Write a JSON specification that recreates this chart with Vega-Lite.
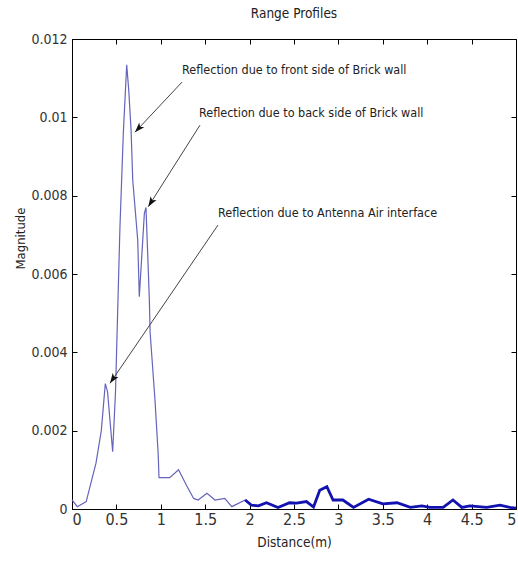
{
  "$schema": "https://vega.github.io/schema/vega-lite/v6.json",
  "autosize": "none",
  "width": 444,
  "height": 470,
  "padding": {"left": 72, "top": 39, "right": 2, "bottom": 53},
  "background": "white",
  "title": {"text": "Range Profiles", "fontSize": 13.5, "fontWeight": "normal", "font": "DejaVu Sans Condensed, sans-serif", "color": "#222", "offset": 12},
  "config": {
    "view": {"stroke": "#000", "strokeWidth": 1},
    "axis": {"grid": false, "domainColor": "#000", "tickColor": "#000", "labelFont": "DejaVu Sans Condensed, sans-serif", "titleFont": "DejaVu Sans Condensed, sans-serif", "titleFontWeight": "normal", "labelColor": "#333", "titleColor": "#222", "tickSize": -5}
  },
  "datasets": {
    "profile": [
      {"d": 0, "m": 0.00023}, {"d": 0.06, "m": 0.00006}, {"d": 0.16, "m": 0.00019},
      {"d": 0.27, "m": 0.00117}, {"d": 0.33, "m": 0.002}, {"d": 0.375, "m": 0.0032},
      {"d": 0.40, "m": 0.003}, {"d": 0.458, "m": 0.00146}, {"d": 0.49, "m": 0.003},
      {"d": 0.503, "m": 0.0041}, {"d": 0.54, "m": 0.0072}, {"d": 0.578, "m": 0.0096},
      {"d": 0.616, "m": 0.01134}, {"d": 0.639, "m": 0.0107}, {"d": 0.665, "m": 0.00968},
      {"d": 0.684, "m": 0.0084}, {"d": 0.74, "m": 0.00687}, {"d": 0.758, "m": 0.00542},
      {"d": 0.815, "m": 0.00755}, {"d": 0.833, "m": 0.0077}, {"d": 0.87, "m": 0.00542},
      {"d": 0.88, "m": 0.0045}, {"d": 0.934, "m": 0.0028}, {"d": 0.97, "m": 0.00143},
      {"d": 0.98, "m": 0.0008}, {"d": 1.1, "m": 0.0008}, {"d": 1.2, "m": 0.001},
      {"d": 1.29, "m": 0.0006}, {"d": 1.37, "m": 0.00027}, {"d": 1.42, "m": 0.00023},
      {"d": 1.52, "m": 0.0004}, {"d": 1.61, "m": 0.00023}, {"d": 1.72, "m": 0.00027},
      {"d": 1.8, "m": 0.00006}, {"d": 1.95, "m": 0.00023}, {"d": 2.02, "m": 0.0001},
      {"d": 2.1, "m": 0.00008}, {"d": 2.19, "m": 0.00016}, {"d": 2.32, "m": 0.00004},
      {"d": 2.45, "m": 0.00016}, {"d": 2.53, "m": 0.00015}, {"d": 2.64, "m": 0.00019},
      {"d": 2.72, "m": 0.00005}, {"d": 2.79, "m": 0.00048}, {"d": 2.87, "m": 0.00057},
      {"d": 2.94, "m": 0.00023}, {"d": 3.05, "m": 0.00023}, {"d": 3.17, "m": 0.00004},
      {"d": 3.34, "m": 0.00025}, {"d": 3.5, "m": 0.00013}, {"d": 3.66, "m": 0.00016},
      {"d": 3.81, "m": 0.00004}, {"d": 3.94, "m": 0.00008}, {"d": 4.03, "m": 0.00004},
      {"d": 4.18, "m": 0.00004}, {"d": 4.29, "m": 0.00023}, {"d": 4.39, "m": 0.00004},
      {"d": 4.48, "m": 0.00008}, {"d": 4.67, "m": 0.00004}, {"d": 4.82, "m": 0.0001},
      {"d": 4.93, "m": 0.00004}, {"d": 5.0, "m": 0.00002}
    ],
    "notes": [
      {"id": "front", "label": "Reflection due to front side of Brick wall", "tx": 1.239, "ty": 0.01121, "x1": 1.239, "y1": 0.0109, "x2": 0.709, "y2": 0.00962},
      {"id": "back", "label": "Reflection due to back side of Brick wall", "tx": 1.43, "ty": 0.01011, "x1": 1.441, "y1": 0.0098, "x2": 0.859, "y2": 0.00772},
      {"id": "antenna", "label": "Reflection due to Antenna Air interface", "tx": 1.644, "ty": 0.00756, "x1": 1.644, "y1": 0.00725, "x2": 0.428, "y2": 0.00321}
    ]
  },
  "layer": [
    {
      "data": {"name": "profile"},
      "mark": {"type": "line", "color": "#6464bc", "strokeWidth": 1.2},
      "encoding": {
        "x": {"field": "d", "type": "quantitative", "scale": {"domain": [0, 5], "nice": false}, "axis": {"title": "Distance(m)", "values": [0, 0.5, 1, 1.5, 2, 2.5, 3, 3.5, 4, 4.5, 5], "format": "~g", "labelFontSize": 16, "labelPadding": 7, "titleFontSize": 13.5, "titlePadding": 8}},
        "y": {"field": "m", "type": "quantitative", "scale": {"domain": [0, 0.012], "nice": false}, "axis": {"title": "Magnitude", "values": [0, 0.002, 0.004, 0.006, 0.008, 0.01, 0.012], "format": "~g", "labelFontSize": 14, "labelPadding": 10, "titleFontSize": 13, "titleX": -45, "titleY": 199}}
      }
    },
    {
      "data": {"name": "profile"},
      "transform": [{"filter": "datum.d >= 1.95"}],
      "mark": {"type": "line", "color": "#1212b0", "strokeWidth": 2.8},
      "encoding": {
        "x": {"field": "d", "type": "quantitative", "axis": {"orient": "top", "labels": false, "title": null, "domain": false, "values": [0, 0.5, 1, 1.5, 2, 2.5, 3, 3.5, 4, 4.5, 5]}},
        "y": {"field": "m", "type": "quantitative", "axis": {"orient": "right", "labels": false, "title": null, "domain": false, "values": [0, 0.002, 0.004, 0.006, 0.008, 0.01, 0.012]}}
      }
    },
    {
      "data": {"name": "notes"},
      "mark": {"type": "rule", "color": "#444", "strokeWidth": 1},
      "encoding": {
        "x": {"field": "x1", "type": "quantitative", "axis": null},
        "y": {"field": "y1", "type": "quantitative", "axis": null},
        "x2": {"field": "x2"},
        "y2": {"field": "y2"}
      }
    },
    {
      "data": {"name": "notes"},
      "mark": {"type": "text", "align": "left", "baseline": "middle", "fontSize": 12.5, "font": "DejaVu Sans Condensed, sans-serif", "color": "#222"},
      "encoding": {
        "x": {"field": "tx", "type": "quantitative", "axis": null},
        "y": {"field": "ty", "type": "quantitative", "axis": null},
        "text": {"field": "label"}
      }
    },
    {
      "data": {"name": "notes"},
      "transform": [{"filter": "datum.id == 'front'"}],
      "mark": {"type": "point", "shape": "M0,0 L0.7,2 L0,1.5 L-0.7,2 Z", "filled": true, "color": "#111", "size": 100, "angle": 223, "opacity": 1},
      "encoding": {
        "x": {"field": "x2", "type": "quantitative", "axis": null},
        "y": {"field": "y2", "type": "quantitative", "axis": null}
      }
    },
    {
      "data": {"name": "notes"},
      "transform": [{"filter": "datum.id == 'back'"}],
      "mark": {"type": "point", "shape": "M0,0 L0.7,2 L0,1.5 L-0.7,2 Z", "filled": true, "color": "#111", "size": 100, "angle": 212, "opacity": 1},
      "encoding": {
        "x": {"field": "x2", "type": "quantitative", "axis": null},
        "y": {"field": "y2", "type": "quantitative", "axis": null}
      }
    },
    {
      "data": {"name": "notes"},
      "transform": [{"filter": "datum.id == 'antenna'"}],
      "mark": {"type": "point", "shape": "M0,0 L0.7,2 L0,1.5 L-0.7,2 Z", "filled": true, "color": "#111", "size": 100, "angle": 214, "opacity": 1},
      "encoding": {
        "x": {"field": "x2", "type": "quantitative", "axis": null},
        "y": {"field": "y2", "type": "quantitative", "axis": null}
      }
    }
  ],
  "resolve": {"axis": {"x": "independent", "y": "independent"}}
}
